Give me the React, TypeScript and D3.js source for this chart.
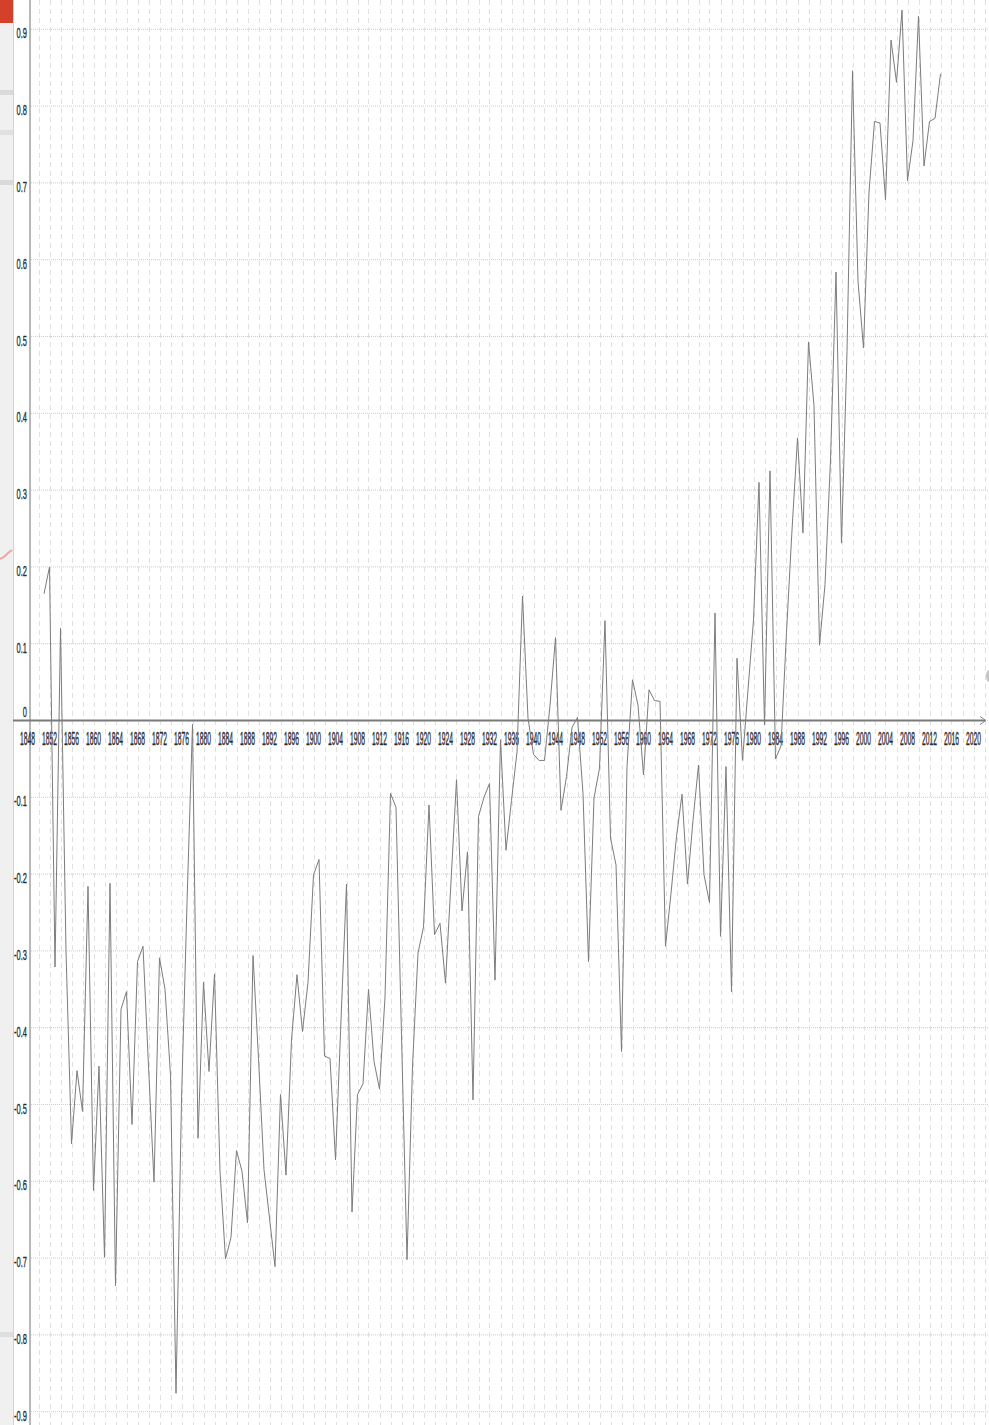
import React from "react";
import * as d3 from "d3";

// Annual series, one value per year starting at FIRST_YEAR
const FIRST_YEAR = 1851;
const values: number[] = [
  0.165, 0.2, -0.321, 0.12, -0.3, -0.551, -0.456, -0.509, -0.216, -0.612,
  -0.45, -0.699, -0.212, -0.736, -0.376, -0.353, -0.526, -0.314, -0.294, -0.45,
  -0.601, -0.309, -0.35, -0.462, -0.876, -0.494, -0.237, -0.005, -0.544, -0.341,
  -0.457, -0.33, -0.587, -0.701, -0.673, -0.56, -0.587, -0.654, -0.306, -0.44,
  -0.585, -0.648, -0.711, -0.487, -0.592, -0.416, -0.331, -0.405, -0.341, -0.201,
  -0.181, -0.437, -0.44, -0.572, -0.39, -0.213, -0.64, -0.487, -0.473, -0.35,
  -0.444, -0.48, -0.36, -0.095, -0.113, -0.41, -0.702, -0.45, -0.303, -0.269,
  -0.11, -0.279, -0.264, -0.342, -0.21, -0.077, -0.248, -0.171, -0.494, -0.125,
  -0.1, -0.082, -0.338, -0.025, -0.169, -0.104, -0.041, 0.162, 0.003, -0.044,
  -0.052, -0.052, 0.02, 0.108, -0.117, -0.073, -0.009, 0.004, -0.095, -0.314,
  -0.101, -0.062, 0.13, -0.153, -0.188, -0.431, -0.06, 0.053, 0.02, -0.071,
  0.04, 0.026, 0.025, -0.294, -0.225, -0.151, -0.096, -0.213, -0.13, -0.058,
  -0.201, -0.237, 0.14, -0.281, -0.06, -0.353, 0.081, -0.052, 0.04, 0.131,
  0.31, -0.006, 0.325, -0.05, -0.033, 0.115, 0.248, 0.368, 0.244, 0.493,
  0.41, 0.098, 0.177, 0.339, 0.584, 0.231, 0.48, 0.846, 0.572, 0.485,
  0.688, 0.78, 0.778, 0.678, 0.886, 0.831, 0.925, 0.703, 0.755, 0.917,
  0.722, 0.78, 0.784, 0.842,
];

// Axis ticks
const xTickYears: number[] = d3.range(1848, 2021, 4);
const xGridYears: number[] = d3.range(1850, 2023, 2);
const yTicks: number[] = [-0.9, -0.8, -0.7, -0.6, -0.5, -0.4, -0.3, -0.2, -0.1, 0, 0.1, 0.2, 0.3, 0.4, 0.5, 0.6, 0.7, 0.8, 0.9];

const W = 989;
const H = 1425;

export default function App() {
  const x = d3.scaleLinear().domain([1848, 2020]).range([27.5, 973.5]);
  const y = d3.scaleLinear().domain([0, 0.9]).range([720.5, 29.3]);

  const points = values.map((v, i) => ({ year: FIRST_YEAR + i, v }));
  const line = d3
    .line<{ year: number; v: number }>()
    .x((d) => x(d.year))
    .y((d) => y(d.v));

  const axisY = y(0);
  const font = "'Liberation Sans', Arial, sans-serif";
  const fmt = (v: number) => (v === 0 ? "0" : d3.format(".1f")(v).replace("−", "-"));

  return (
    <svg
      width={W}
      height={H}
      style={{ position: "absolute", left: 0, top: 0, display: "block", background: "#fff" }}
    >
      {/* side panel strip */}
      <rect x={0} y={0} width={13} height={H} fill="#f0f0f0" />
      <rect x={0} y={0} width={13} height={23} fill="#d5402a" />
      <rect x={0} y={90} width={13} height={5} fill="#dadada" />
      <rect x={0} y={130} width={13} height={5} fill="#e0e0e0" />
      <rect x={0} y={180} width={13} height={5} fill="#dadada" />
      <rect x={0} y={1332} width={13} height={5} fill="#dedede" />
      <path d="M0,559 L4,557 L8,553 L12,550" stroke="#f3a3a3" strokeWidth={2} fill="none" />
      <line x1={13.5} x2={13.5} y1={0} y2={H} stroke="#d2d2d2" strokeWidth={1} />

      {/* vertical dashed grid */}
      {xGridYears.map((yr) => (
        <line
          key={"vg" + yr}
          x1={Math.round(x(yr)) + 0.5}
          x2={Math.round(x(yr)) + 0.5}
          y1={0}
          y2={H}
          stroke="#e0e0e0"
          strokeWidth={1}
          strokeDasharray="5,4"
        />
      ))}

      {/* horizontal dotted grid */}
      {yTicks.map((t) => (
        <line
          key={"hg" + t}
          x1={31}
          x2={W}
          y1={y(t)}
          y2={y(t)}
          stroke="#cccccc"
          strokeWidth={1}
          strokeDasharray="1,1"
        />
      ))}

      {/* y axis */}
      <line x1={30} x2={30} y1={0} y2={H} stroke="#a0a0a0" strokeWidth={1.5} />

      {/* x axis with arrow */}
      <line x1={13} x2={985} y1={axisY} y2={axisY} stroke="#7a7a7a" strokeWidth={2} />
      <path d={`M980,${axisY - 4} L986,${axisY} L980,${axisY + 4}`} stroke="#8a8a8a" strokeWidth={1} fill="none" />
      <ellipse cx={989} cy={676} rx={3} ry={6} fill="#c4c4c4" />

      {/* y labels */}
      {yTicks.map((t) => {
        const by = t === 0 ? axisY - 3.5 : y(t) + 9;
        return (
          <text
            key={"yl" + t}
            transform={`translate(27,${by}) scale(0.5,1)`}
            textAnchor="end"
            fontFamily={font}
            fontSize={15}
            fill="#2a2a2a"
            stroke="#2a2a2a"
            strokeWidth={0.35}
          >
            {fmt(t)}
          </text>
        );
      })}

      {/* x labels */}
      {xTickYears.map((yr) => (
        <text
          key={"xl" + yr}
          transform={`translate(${x(yr)},744.5) scale(0.375,1)`}
          textAnchor="middle"
          fontFamily={font}
          fontSize={18}
          fill="#2a2a2a"
          stroke="#2a2a2a"
          strokeWidth={0.4}
        >
          {yr}
        </text>
      ))}

      {/* series */}
      <path d={line(points) ?? ""} fill="none" stroke="#7c7c7c" strokeWidth={1} />
    </svg>
  );
}
